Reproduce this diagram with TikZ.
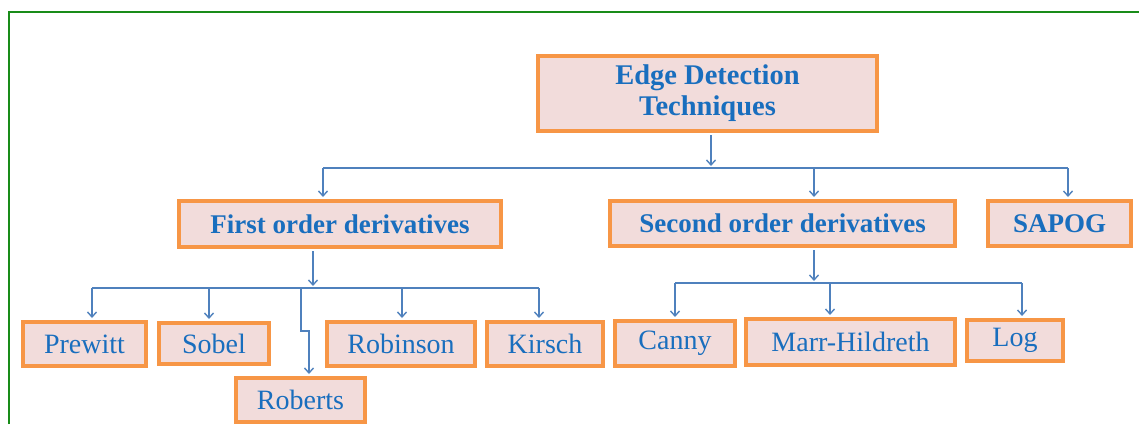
\documentclass[tikz,border=0pt]{standalone}
\usepackage{fontspec}
\setmainfont{Liberation Serif}
\usetikzlibrary{arrows.meta}
\definecolor{boxfill}{RGB}{242,220,219}
\definecolor{boxline}{RGB}{247,150,70}
\definecolor{textblue}{RGB}{25,110,190}
\definecolor{linkblue}{RGB}{79,129,189}
\definecolor{framegreen}{RGB}{25,140,25}

\begin{document}
\begin{tikzpicture}[x=1pt,y=-1pt,
  box/.style={draw=boxline,fill=boxfill,line width=4pt,text=textblue,inner sep=0pt,
    align=center,font=\fontsize{27}{31}\bfseries\selectfont},
  leaf/.style={box,font=\fontsize{28}{31}\selectfont},
  link/.style={draw=linkblue,line width=1.4pt},
  arr/.style={link,-{Straight Barb[length=5pt,width=9pt]},shorten >=2pt}]
\useasboundingbox (0,0) rectangle (1139,424);
% frame
\draw[framegreen,line width=2pt] (9,424) -- (9,12) -- (1139,12);
% top
\node[box,minimum width=339pt,minimum height=75pt,font=\fontsize{28.5}{31}\bfseries\selectfont]
  (top) at (707.5,93.5) {Edge Detection\\Techniques};
% second level
\node[box,minimum width=322pt,minimum height=46pt] (first) at (340,224) {First order derivatives};
\node[box,minimum width=345pt,minimum height=45pt] (second) at (782.5,223.5) {Second order derivatives};
\node[box,minimum width=143pt,minimum height=45pt] (sapog) at (1059.5,223.5) {SAPOG};
% first order methods
\node[leaf,minimum width=123pt,minimum height=44pt] (prewitt) at (84.5,344) {Prewitt};
\node[leaf,minimum width=110pt,minimum height=41pt] (sobel) at (214,343.5) {Sobel};
\node[leaf,minimum width=129pt,minimum height=44pt] (roberts) at (300.5,400) {Roberts};
\node[leaf,minimum width=148pt,minimum height=44pt] (robinson) at (401,344) {Robinson};
\node[leaf,minimum width=116pt,minimum height=44pt] (kirsch) at (545,344) {Kirsch};
% second order methods
\node[leaf,minimum width=120pt,minimum height=45pt] (canny) at (675,343.5) {Canny};
\node[leaf,minimum width=209pt,minimum height=46pt] (marr) at (850.5,342) {Marr-Hildreth};
\node[leaf,minimum width=96pt,minimum height=41pt] (log) at (1015,340.5) {Log};
% bus 1
\coordinate (b1l) at (323,168);
\coordinate (b1m) at (711,168);
\coordinate (b1s) at (814,168);
\coordinate (b1r) at (1068,168);
\draw[link] (b1l) -- (b1r);
\draw[arr,shorten <=2pt] (top.south -| b1m) -- (b1m);
\draw[arr] (b1l) -- (b1l |- first.north);
\draw[arr] (b1s) -- (b1s |- second.north);
\draw[arr] (b1r) -- (b1r |- sapog.north);
% bus 2
\coordinate (b2l) at (92,288);
\coordinate (b2m) at (313,288);
\coordinate (b2s) at (209,288);
\coordinate (b2j) at (301,288);
\coordinate (b2k) at (309,331);
\coordinate (b2n) at (402,288);
\coordinate (b2r) at (539,288);
\draw[link] (b2l) -- (b2r);
\draw[arr,shorten <=2pt] (first.south -| b2m) -- (b2m);
\draw[arr] (b2l) -- (b2l |- prewitt.north);
\draw[arr] (b2s) -- (b2s |- sobel.north);
\draw[arr] (b2j) -- (b2j |- b2k) -- (b2k) -- (b2k |- roberts.north);
\draw[arr] (b2n) -- (b2n |- robinson.north);
\draw[arr] (b2r) -- (b2r |- kirsch.north);
% bus 3
\coordinate (b3l) at (675,283);
\coordinate (b3m) at (814,283);
\coordinate (b3s) at (830,283);
\coordinate (b3r) at (1022,283);
\draw[link] (b3l) -- (b3r);
\draw[arr,shorten <=2pt] (second.south -| b3m) -- (b3m);
\draw[arr] (b3l) -- (b3l |- canny.north);
\draw[arr] (b3s) -- (b3s |- marr.north);
\draw[arr] (b3r) -- (b3r |- log.north);
\end{tikzpicture}
\end{document}
